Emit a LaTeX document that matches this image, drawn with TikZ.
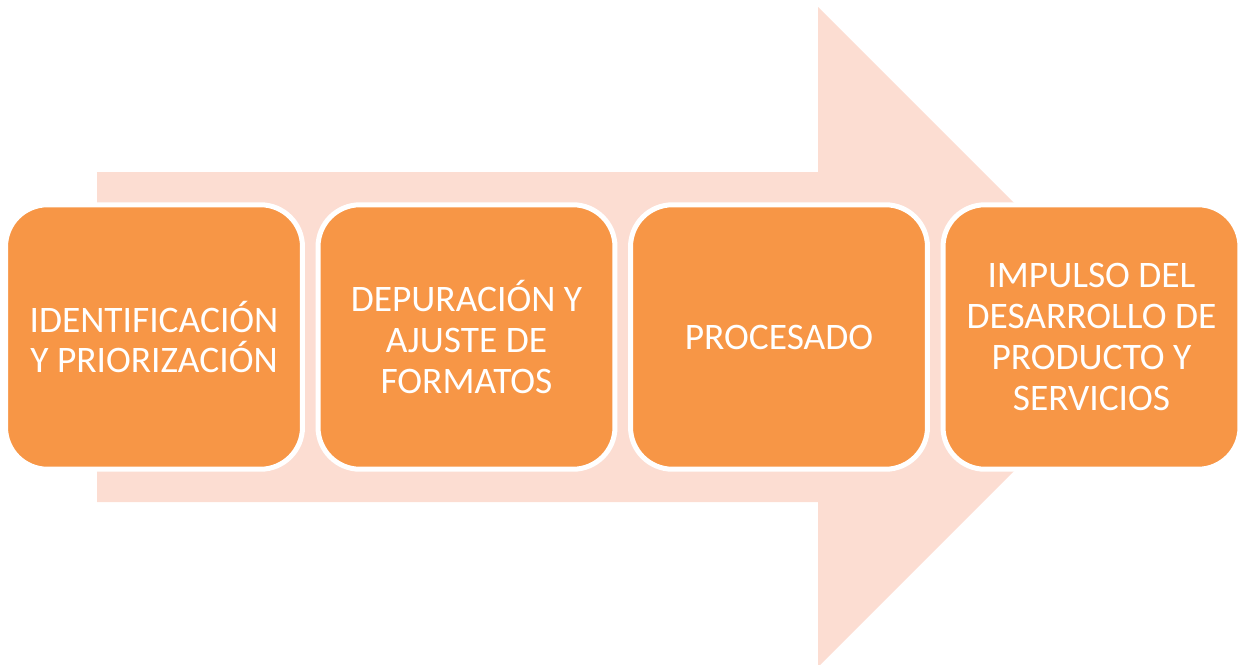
\documentclass[tikz,border=0pt]{standalone}
\usepackage{fontspec}
\setmainfont{Carlito}
\usepackage{tikz}

\definecolor{stepfill}{HTML}{F79646}
\definecolor{arrowfill}{HTML}{FCDDD2}

\tikzset{
    stagebox/.style={draw=white, line width=0.1cm, fill=stepfill, rounded corners=0.84cm,
        minimum width=5.94cm, minimum height=5.29cm, inner sep=0pt, align=center,
        text=white, font=\fontsize{21.3pt}{23.3pt}\selectfont},
}

\begin{document}
\begin{tikzpicture}[x=0.02cm, y=-0.02cm]
    % Canvas:
    \useasboundingbox (0,0) rectangle (1243,664);

    % Big arrow in the background:
    % shaft first, then the head, as one closed path
    \fill [arrowfill] (97,172) -- (818,172) -- (818,7) -- (1148,337)
        -- (818,667) -- (818,502) -- (97,502) -- cycle;

    % Stages:
    % the boxes sit on the arrow, one step of 312.5 apart
    \foreach \n/\txt in {1/{IDENTIFICACIÓN\\Y PRIORIZACIÓN},
                         2/{DEPURACIÓN Y\\AJUSTE DE\\FORMATOS},
                         3/{PROCESADO},
                         4/{IMPULSO DEL\\DESARROLLO DE\\PRODUCTO Y\\SERVICIOS}}{%
        \node [stagebox] (stage\n) at ({154+312.5*(\n-1)},337) {\txt};
    }
\end{tikzpicture}
\end{document}
